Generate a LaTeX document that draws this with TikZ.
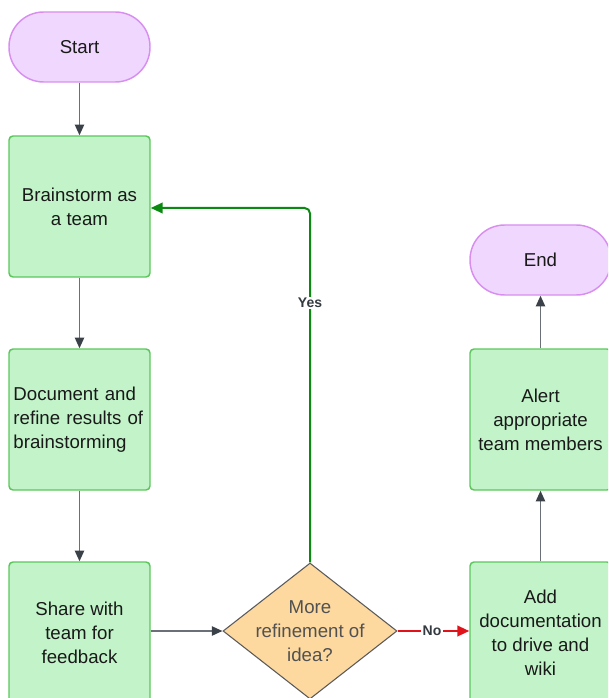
\documentclass[tikz,border=0pt]{standalone}
\usepackage{fontspec}
\setmainfont{Liberation Sans}
\usetikzlibrary{arrows.meta,shapes.geometric}

\definecolor{boxfill}{HTML}{C3F4C9}
\definecolor{boxline}{HTML}{5CC65C}
\definecolor{termfill}{HTML}{EFD7FE}
\definecolor{termline}{HTML}{D88EF0}
\definecolor{decfill}{HTML}{FDD9A0}
\definecolor{decline}{HTML}{5A5A5A}
\definecolor{flow}{HTML}{6B7078}
\definecolor{flowtip}{HTML}{3B4148}
\definecolor{yesgreen}{HTML}{0B8A12}
\definecolor{nored}{HTML}{E0121A}
\definecolor{labeltext}{HTML}{333A40}

\tikzset{
  basetext/.style={font=\fontsize{14}{18}\selectfont, text=black!90},
  stepbox/.style={basetext, draw=boxline, fill=boxfill, line width=1.1pt,
    rounded corners=3pt, minimum width=105.75pt, minimum height=105.75pt,
    inner sep=3pt, align=center},
  terminal/.style={basetext, draw=termline, fill=termfill, line width=1.1pt,
    rounded corners=26pt, minimum width=105.75pt, minimum height=52.5pt,
    inner sep=0pt},
  decision/.style={diamond, draw=decline, fill=decfill, line width=0.8pt,
    minimum width=130.5pt, minimum height=102pt, inner sep=0pt},
  flowline/.style={draw=flow, line width=1.1pt,
    -{Triangle[length=8pt,width=7pt,color=flowtip]}},
  yesline/.style={draw=yesgreen, line width=1.5pt, rounded corners=4pt,
    -{Triangle[length=9pt,width=8pt]}},
  noline/.style={draw=nored, line width=1.5pt,
    -{Triangle[length=9pt,width=8pt]}},
  branchlabel/.style={font=\fontsize{10.5}{12}\selectfont\bfseries,
    text=labeltext, fill=white, inner sep=1pt},
}

\begin{document}
\begin{tikzpicture}[x=0.75pt, y=-0.75pt]
  \useasboundingbox (0,0) rectangle (608,698);
  \clip (0,0) rectangle (608,698);

  % left column
  \node[terminal] (start) at (79.5,47) {Start};
  \node[stepbox] (brain) at (79.5,206.5) {Brainstorm as\\a team};
  \node[stepbox, align=left, text width=99pt] (doc) at (79.5,419.5)
    {Document and\\refine results of\\brainstorming};
  \node[stepbox] (share) at (79.5,632.5) {Share with\\team for\\feedback};

  % decision
  \node[decision] (dec) at (310,631) {};
  \node[basetext, text=decline!90!black, align=center] (dectext) at (dec.center)
    {More\\refinement of\\idea?};

  % right column
  \node[stepbox] (add) at (540.5,632.5) {Add\\documentation\\to drive and\\wiki};
  \node[stepbox] (alert) at (540.5,419.5) {Alert\\appropriate\\team members};
  \node[terminal] (end) at (540.5,260) {End};

  % connectors
  \draw[flowline] (start) -- (brain);
  \draw[flowline] (brain) -- (doc);
  \draw[flowline] (doc) -- (share);
  \draw[flowline] (share.east |- dec.west) -- (dec.west);
  \draw[flowline] (add) -- (alert);
  \draw[flowline] (alert) -- (end);

  \coordinate (yesbend) at (dec.north |- 0,208);
  \draw[yesline] (dec.north) -- (yesbend) -- (brain.east |- yesbend);
  \node[branchlabel] (yes) at (310,303) {Yes};

  \draw[noline] (dec.east) -- (add.west |- dec.east);
  \node[branchlabel] (no) at (432,631) {No};
\end{tikzpicture}
\end{document}
